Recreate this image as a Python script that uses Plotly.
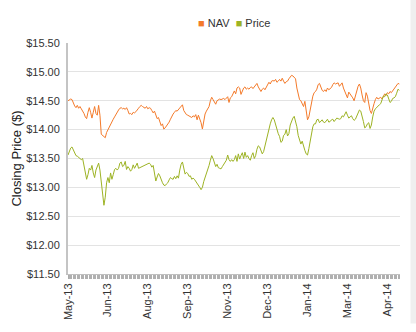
import plotly.graph_objects as go

# ---------------- data ----------------
tick_labels = ["May-13", "Jun-13", "Aug-13", "Sep-13", "Nov-13",
               "Dec-13", "Jan-14", "Mar-14", "Apr-14"]
tick_every = 30  # one label every 30 trading days

nav = [
    14.50, 14.51, 14.53, 14.52, 14.46, 14.41, 14.38, 14.42, 14.37, 14.40,
    14.36, 14.33, 14.28, 14.22, 14.19, 14.30, 14.38, 14.30, 14.20, 14.30,
    14.40, 14.28, 14.25, 14.42, 14.25, 13.92, 13.90, 13.89, 13.86, 13.95,
    14.00, 14.06, 14.08, 14.15, 14.18, 14.22, 14.27, 14.30, 14.34, 14.37,
    14.38, 14.36, 14.37, 14.35, 14.38, 14.33, 14.27, 14.28, 14.26, 14.30,
    14.29, 14.31, 14.35, 14.37, 14.40, 14.42, 14.40, 14.38, 14.37, 14.40,
    14.36, 14.38, 14.37, 14.33, 14.29, 14.32, 14.25, 14.19, 14.21, 14.12,
    14.07, 14.10, 14.01, 14.03, 14.06, 14.08, 14.13, 14.18, 14.24, 14.27,
    14.30, 14.33, 14.32, 14.35, 14.37, 14.40, 14.43, 14.33, 14.28, 14.26,
    14.25, 14.24, 14.22, 14.21, 14.24, 14.22, 14.26, 14.17, 14.25, 14.20,
    14.12, 14.01, 14.15, 14.27, 14.32, 14.37, 14.40, 14.50, 14.56, 14.52,
    14.47, 14.44, 14.50, 14.52, 14.53, 14.52, 14.53, 14.54, 14.52, 14.55,
    14.57, 14.47, 14.55, 14.57, 14.61, 14.67, 14.62, 14.72, 14.74, 14.72,
    14.61, 14.68, 14.72, 14.74, 14.70, 14.72, 14.70, 14.73, 14.74, 14.71,
    14.74, 14.77, 14.80, 14.74, 14.69, 14.66, 14.70, 14.72, 14.69, 14.73,
    14.78, 14.82, 14.79, 14.84, 14.85, 14.84, 14.87, 14.82, 14.84, 14.87,
    14.84, 14.89, 14.84, 14.80, 14.83, 14.84, 14.88, 14.91, 14.94, 14.93,
    14.90, 14.88, 14.72, 14.60, 14.52, 14.50, 14.44, 14.40, 14.49, 14.30,
    14.17, 14.22, 14.35, 14.49, 14.58, 14.64, 14.66, 14.70, 14.78, 14.80,
    14.72, 14.68, 14.66, 14.69, 14.66, 14.72, 14.69, 14.71, 14.73, 14.78,
    14.81, 14.79, 14.80, 14.81, 14.75, 14.79, 14.81, 14.72, 14.66, 14.60,
    14.55, 14.65, 14.62, 14.58, 14.55, 14.50, 14.60, 14.68, 14.75, 14.79,
    14.72, 14.60, 14.50, 14.47, 14.64, 14.58, 14.42, 14.33, 14.28, 14.39,
    14.45, 14.52, 14.56, 14.53, 14.55, 14.56, 14.53, 14.57, 14.62, 14.59,
    14.64, 14.62, 14.66, 14.64, 14.67, 14.70, 14.72, 14.77, 14.80, 14.79,
]

price = [
    13.56, 13.63, 13.68, 13.70, 13.64, 13.58, 13.55, 13.54, 13.52, 13.50,
    13.48, 13.50, 13.38, 13.25, 13.14, 13.22, 13.33, 13.30, 13.38, 13.25,
    13.17, 13.30, 13.35, 13.42, 13.30, 13.05, 12.94, 12.69, 12.83, 13.08,
    13.17, 13.08, 13.25, 13.14, 13.22, 13.31, 13.33, 13.30, 13.33, 13.42,
    13.44, 13.36, 13.38, 13.45, 13.31, 13.36, 13.33, 13.28, 13.31, 13.39,
    13.33, 13.39, 13.42, 13.33, 13.34, 13.36, 13.36, 13.38, 13.39, 13.39,
    13.41, 13.42, 13.40, 13.35, 13.38, 13.22, 13.11, 13.18, 13.24, 13.20,
    13.12, 13.08, 13.04, 13.03, 13.06, 13.08, 13.13, 13.17, 13.15, 13.14,
    13.19, 13.15, 13.20, 13.16, 13.30, 13.40, 13.44, 13.33, 13.23, 13.26,
    13.24, 13.19, 13.20, 13.14, 13.16, 13.14, 13.11, 13.06, 13.04, 13.00,
    12.96, 13.00, 13.10, 13.17, 13.21, 13.30, 13.38, 13.47, 13.55, 13.50,
    13.44, 13.36, 13.40, 13.34, 13.33, 13.32, 13.36, 13.39, 13.44, 13.47,
    13.56, 13.48, 13.45, 13.48, 13.45, 13.48, 13.55, 13.45, 13.58, 13.49,
    13.55, 13.60, 13.50, 13.61, 13.52, 13.55, 13.50, 13.47, 13.55, 13.60,
    13.50, 13.55, 13.66, 13.72, 13.70, 13.62, 13.58, 13.62, 13.72, 13.83,
    13.93, 14.02, 14.10, 14.17, 14.21, 14.17, 14.08, 14.00, 13.93, 13.88,
    13.78, 13.80, 13.90, 13.92, 14.00, 13.89, 13.93, 14.08, 14.15, 14.20,
    14.23, 14.15, 14.05, 13.90, 13.80, 13.75, 13.80, 13.70, 13.64, 13.58,
    13.56, 13.67, 13.82, 13.92, 14.05, 14.10, 14.10, 14.17, 14.18, 14.12,
    14.15, 14.17, 14.13, 14.12, 14.15, 14.18, 14.13, 14.14, 14.17, 14.18,
    14.14, 14.18, 14.20, 14.19, 14.18, 14.19, 14.24, 14.22, 14.26, 14.31,
    14.25, 14.20, 14.22, 14.24, 14.19, 14.16, 14.18, 14.24, 14.28, 14.34,
    14.32, 14.25, 14.14, 14.03, 14.05, 14.10, 14.12, 14.02, 14.08, 14.22,
    14.32, 14.36, 14.39, 14.42, 14.43, 14.45, 14.52, 14.58, 14.57, 14.62,
    14.60, 14.52, 14.47, 14.49, 14.54, 14.55, 14.57, 14.63, 14.70, 14.68,
]

y_ticks = [11.5, 12.0, 12.5, 13.0, 13.5, 14.0, 14.5, 15.0, 15.5]
y_tick_text = ["$11.50", "$12.00", "$12.50", "$13.00", "$13.50",
               "$14.00", "$14.50", "$15.00", "$15.50"]

nav_color = "#F47A2A"
price_color = "#9DB324"
font_family = "Liberation Sans, Arial, sans-serif"

x = list(range(len(nav)))
tick_pos = [i * tick_every for i in range(len(tick_labels))]

fig = go.Figure()
fig.add_trace(go.Scatter(x=x, y=nav, mode="lines", name="NAV",
                         line=dict(color=nav_color, width=1),
                         showlegend=False))
fig.add_trace(go.Scatter(x=x, y=price, mode="lines", name="Price",
                         line=dict(color=price_color, width=1),
                         showlegend=False))

fig.update_layout(
    width=416, height=332,
    margin=dict(l=68, r=16, t=43, b=49),
    paper_bgcolor="white", plot_bgcolor="white",
    font=dict(family=font_family, size=11, color="#333333"),
    xaxis=dict(
        range=[0, len(nav) - 0.5],
        tickmode="array", tickvals=tick_pos, ticktext=tick_labels,
        tickangle=-90, ticks="outside", ticklen=4, tickcolor="#aaaaaa",
        tickfont=dict(size=11, color="#333333"),
        showgrid=False, zeroline=False,
        showline=True, linecolor="#c0c0c0", linewidth=1,
        minor=dict(ticks="outside", dtick=1, tick0=0, ticklen=4,
                   tickcolor="#b0b0b0", showgrid=False),
    ),
    yaxis=dict(
        range=[11.5, 15.5], tickmode="array", tickvals=y_ticks,
        ticktext=y_tick_text,
        tickfont=dict(size=11, color="#333333"),
        showgrid=True, gridcolor="#e3e3e3", gridwidth=1,
        zeroline=False, showline=True, linecolor="#c4c4c4", linewidth=2,
        ticks="", ticklabelstandoff=4,
        title=dict(text="Closing Price ($)", standoff=2,
                   font=dict(size=13, color="#222222")),
    ),
    shapes=[
        dict(type="rect", xref="paper", yref="paper",
             x0=(410.5 - 68) / 332, x1=(417 - 68) / 332,
             y0=-49 / 240 - 0.01, y1=1 + 43 / 240 + 0.01,
             fillcolor="#efefef", line=dict(width=0), layer="below"),
    ],
    annotations=[
        dict(xref="paper", yref="paper", x=0.5, y=1.0875,
             xanchor="center", yanchor="middle", showarrow=False,
             text=(f'<span style="color:{nav_color}">■</span> NAV  '
                   f'<span style="color:{price_color}">■</span> Price'),
             font=dict(size=11, color="#333333")),
    ],
    showlegend=False,
)

fig.write_html("out.html")
